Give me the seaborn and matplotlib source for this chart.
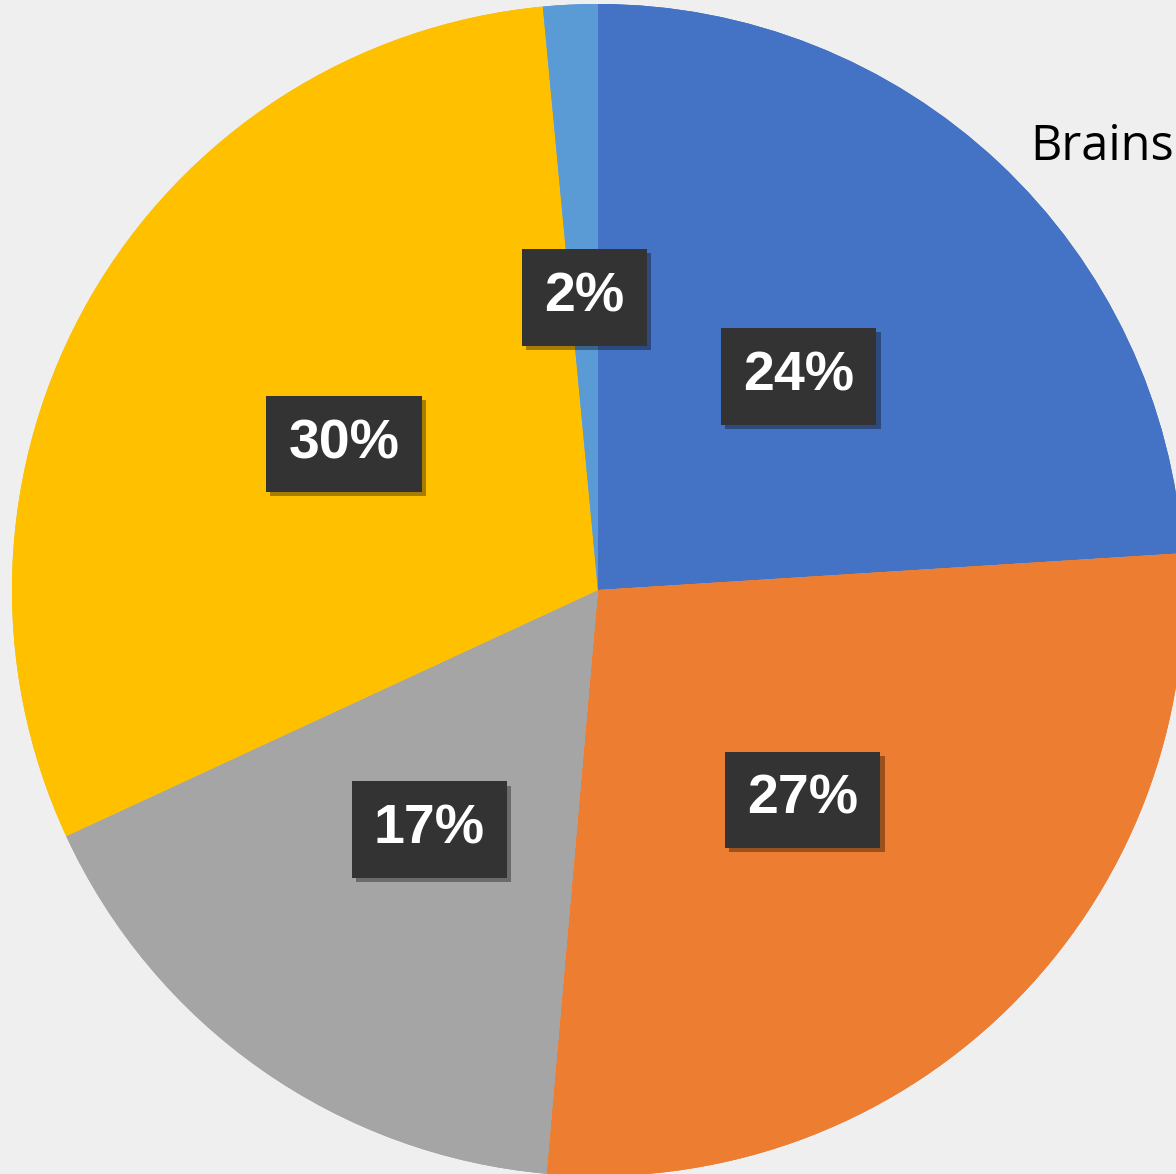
import matplotlib
matplotlib.use("Agg")
import matplotlib.pyplot as plt
import matplotlib.patheffects as pe
import seaborn as sns

# slice shares (clockwise from 12 o'clock)
segments = ["A", "B", "C", "D", "E"]
shares = [24.0, 27.4, 16.7, 30.4, 1.5]
pct_labels = ["24%", "27%", "17%", "30%", "2%"]
colors = ["#4472C4", "#ED7D31", "#A5A5A5", "#FFC000", "#5B9BD5"]
title_text = "Brains"

sns.set_theme(style="white")
plt.rcParams['font.family'] = ['Liberation Sans', 'DejaVu Sans']

fig = plt.figure(figsize=(11.76, 11.74), dpi=100, facecolor="#efefef")
ax = fig.add_axes([0.0102, -0.0017, 0.9966, 0.9983])
ax.set_facecolor("none")

label_iter = iter(pct_labels)
wedges, texts, autotexts = ax.pie(
    shares,
    colors=colors,
    startangle=90,
    counterclock=False,
    autopct=lambda p: next(label_iter),
    pctdistance=0.5,
    wedgeprops=dict(linewidth=0),
    textprops=dict(color="white", fontsize=40, fontweight="bold"),
)
for w in wedges:
    w.set_path_effects([pe.withSimplePatchShadow(offset=(0, 0), shadow_rgbFace="#999999", alpha=0.25), pe.Normal()])

for t in autotexts:
    t.set_bbox(dict(boxstyle="square,pad=0.4", facecolor="#333333", edgecolor="none"))
    t.get_bbox_patch().set_path_effects([
        pe.withSimplePatchShadow(offset=(3, -3), shadow_rgbFace="black", alpha=0.35),
        pe.Normal(),
    ])

ax.set_xlim(-1, 1)
ax.set_ylim(-1, 1)
ax.set_aspect("equal")
ax.axis("off")

fig.text(1030 / 1176, 1 - 160 / 1174, title_text, fontsize=35,
         family=["Open Sans", "DejaVu Sans"], color="black", ha="left", va="baseline")

fig.savefig("out.png", dpi=100, facecolor=fig.get_facecolor())
